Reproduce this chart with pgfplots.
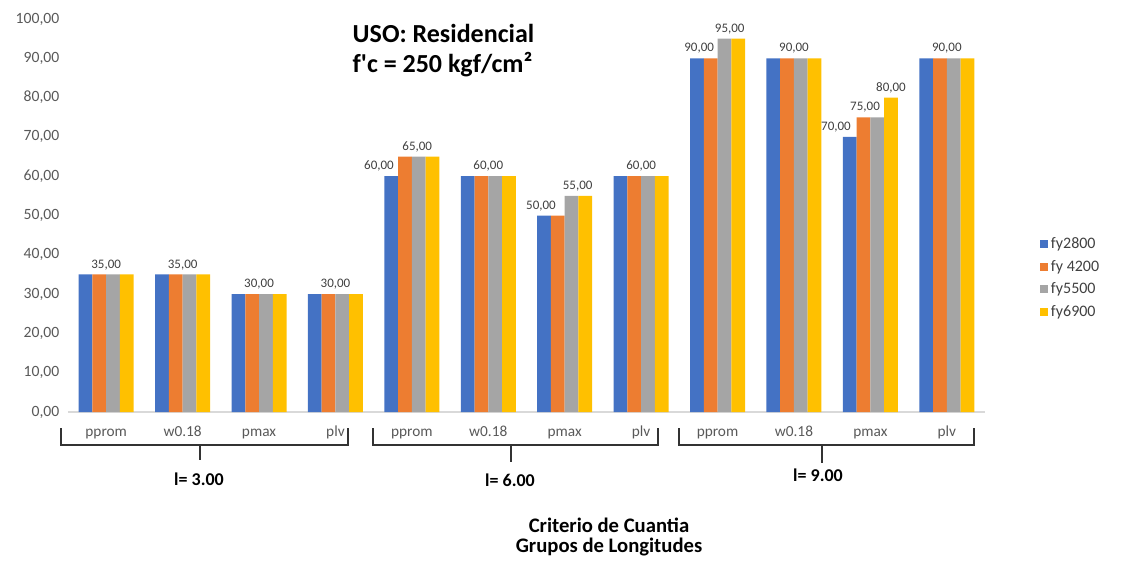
\documentclass[border=0pt]{standalone}
\usepackage{fontspec}
\setmainfont{Carlito}
\usepackage{pgfplots}
\pgfplotsset{compat=1.18}
\usepackage{pgfplotstable}

\definecolor{cBlue}{HTML}{4472C4}
\definecolor{cOrange}{HTML}{ED7D31}
\definecolor{cGray}{HTML}{A5A5A5}
\definecolor{cYellow}{HTML}{FFC000}
\definecolor{tickGray}{HTML}{595959}
\definecolor{labGray}{HTML}{404040}

% x = category index (0..11), one column per yield stress
\pgfplotstableread{
x  fyA  fyB  fyC  fyD
0  35   35   35   35
1  35   35   35   35
2  30   30   30   30
3  30   30   30   30
4  60   65   65   65
5  60   60   60   60
6  50   50   55   55
7  60   60   60   60
8  90   90   95   95
9  90   90   90   90
10 70   75   75   80
11 90   90   90   90
}\datatable

% value labels: one per run of equal bars
\pgfplotstableread{
x     y
0     35
1     35
2     30
3     30
3.57  60
4.07  65
5     60
5.69  50
6.17  55
7     60
7.76  90
8.16  95
9     90
9.55  70
9.93  75
10.27 80
11    90
}\labeltable

\begin{document}
\begin{tikzpicture}
\begin{scope}[x=0.75pt,y=-0.75pt]
  \useasboundingbox (0,0) rectangle (1121,561);
\end{scope}

\begin{axis}[
  at={(51pt,-309pt)}, anchor=south west,
  scale only axis, width=687.75pt, height=294.75pt,
  ybar, bar width=0.18,
  xmin=-0.5, xmax=11.5, ymin=0, ymax=100,
  axis lines*=left,
  axis line style={-},
  y axis line style={draw=none},
  x axis line style={draw=black!15, line width=1pt},
  major tick length=0pt,
  ytick distance=10,
  xtick={0,...,11},
  xticklabels={pprom,w0.18,pmax,plv,pprom,w0.18,pmax,plv,pprom,w0.18,pmax,plv},
  xticklabel style={anchor=base, yshift=-18.5pt, text=tickGray,
    font=\fontsize{11.5}{13}\selectfont},
  yticklabel style={text=tickGray, font=\fontsize{11.75}{13}\selectfont,
    xshift=-3pt,
    /pgf/number format/.cd, fixed, fixed zerofill, precision=2, use comma,
    assume math mode=true},
  clip=false,
  legend style={at={(1.06,0.341)}, anchor=west, draw=none, fill=none,
    font=\fontsize{12}{14}\selectfont, text=labGray,
    row sep=3.2pt, inner sep=0pt},
  legend cell align=left,
  legend image code/.code={\fill[#1] (0pt,-3pt) rectangle (6pt,3pt);},
]
\addplot[fill=cBlue, draw=none, bar shift=-0.27] table[x=x,y=fyA] {\datatable};
\addplot[fill=cOrange, draw=none, bar shift=-0.09] table[x=x,y=fyB] {\datatable};
\addplot[fill=cGray, draw=none, bar shift=0.09] table[x=x,y=fyC] {\datatable};
\addplot[fill=cYellow, draw=none, bar shift=0.27] table[x=x,y=fyD] {\datatable};
\legend{fy2800,fy 4200,fy5500,fy6900}

\addplot[forget plot, draw=none, fill=none, bar shift=0,
  nodes near coords,
  nodes near coords style={text=labGray, font=\fontsize{9.75}{11}\selectfont,
    /pgf/number format/.cd, fixed, fixed zerofill, precision=2, use comma,
    assume math mode=true}]
  table[x=x,y=y] {\labeltable};
\end{axis}

\begin{scope}[x=0.75pt,y=-0.75pt, line width=1.1pt, draw=black!80]
  % group brackets under the category labels
  \draw (61,428) -- (61,445) -- (348,445) -- (348,428);
  \draw (200,445) -- (200,460);
  \draw (373,428) -- (373,445) -- (658,445) -- (658,428);
  \draw (511,445) -- (511,462);
  \draw (679,428) -- (679,445) -- (974,445) -- (974,428);
  \draw (822,445) -- (822,463);
  \begin{scope}[every node/.style={font=\fontsize{13.5}{16}\selectfont\bfseries}]
    \node at (199,479) {l= 3.00};
    \node at (510,480) {l= 6.00};
    \node at (818,475) {l= 9.00};
  \end{scope}
  % axis title
  \node[align=center, font=\fontsize{15.5}{15}\selectfont\bfseries] at (609,537)
    {Criterio de Cuantia\\Grupos de Longitudes};
  % chart title
  \node[anchor=west, align=left, font=\fontsize{19.5}{22.5}\selectfont\bfseries,
    inner sep=0pt] at (352,51) {USO: Residencial\\f\textquotesingle c = 250 kgf/cm²};
\end{scope}
\end{tikzpicture}
\end{document}
